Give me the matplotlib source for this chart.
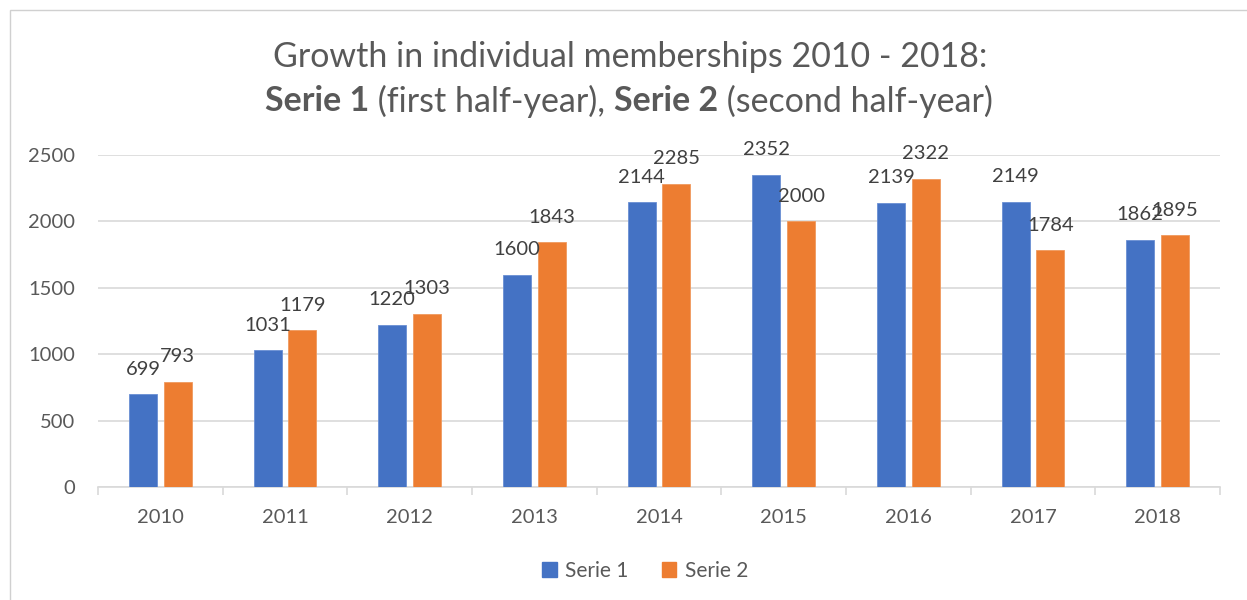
import matplotlib
matplotlib.use("Agg")
import matplotlib.pyplot as plt
import numpy as np
from matplotlib.patches import Rectangle, Patch

years = ["2010", "2011", "2012", "2013", "2014", "2015", "2016", "2017", "2018"]
serie1 = [699, 1031, 1220, 1600, 2144, 2352, 2139, 2149, 1862]
serie2 = [793, 1179, 1303, 1843, 2285, 2000, 2322, 1784, 1895]
series_names = ["Serie 1", "Serie 2"]

BLUE = "#4472C4"
ORANGE = "#ED7D31"
GRID = "#D9D9D9"
TXT = "#595959"

plt.rcParams['font.family'] = ['Lato', 'DejaVu Sans']

W, H = 1247, 600
fig = plt.figure(figsize=(W / 100, H / 100), dpi=100)

# chart frame (runs off the right and bottom edges)
fig.patches.append(Rectangle((10 / W, -0.1), 1.2, 1 - 10 / H + 0.1, transform=fig.transFigure,
                             fill=False, edgecolor="#D0D0D0", lw=1))

ax = fig.add_axes([98 / W, 1 - 487 / H, (1220 - 98) / W, (487 - 155) / H])

x = np.arange(len(years))
bw = 0.225
off = 0.14
b1 = ax.bar(x - off, serie1, bw, color=BLUE, edgecolor="#6A8FD3", lw=0.6, zorder=3)
b2 = ax.bar(x + off, serie2, bw, color=ORANGE, edgecolor="#F09A5E", lw=0.6, zorder=3)

for bars, vals in ((b1, serie1), (b2, serie2)):
    for b, v in zip(bars, vals):
        ax.annotate(str(v), (b.get_x() + b.get_width() / 2, v), xytext=(0, 18),
                    textcoords="offset points", ha="center", va="center",
                    fontsize=14.5, color="#404040", zorder=4)

ax.set_xlim(-0.5, len(years) - 0.5)
ax.set_ylim(0, 2500)
ax.set_yticks(range(0, 2501, 500))
ax.yaxis.grid(True, color=GRID, lw=1.2)
ax.set_axisbelow(True)
for s in ("top", "right", "left"):
    ax.spines[s].set_visible(False)
ax.spines["bottom"].set_color(GRID)
ax.spines["bottom"].set_linewidth(1.2)

ax.set_xticks(x)
ax.set_xticklabels(years)
ax.set_xticks(np.arange(-0.5, len(years)), minor=True)
ax.tick_params(axis="x", which="major", length=0, pad=16, labelsize=14.5, labelcolor=TXT)
ax.tick_params(axis="x", which="minor", length=6, color=GRID, width=1.2)
ax.tick_params(axis="y", length=0, pad=16.5, labelsize=14.5, labelcolor=TXT)

# title, line 1
fig.text(630 / W, 1 - 57 / H, "Growth in individual memberships 2010 - 2018:",
         ha="center", va="center", fontsize=24.5, color=TXT)

# title, line 2 with bold parts
parts = [("Serie 1", "bold"), (" (first half-year), ", "normal"),
         ("Serie 2", "bold"), (" (second half-year)", "normal")]
fig.canvas.draw()
r = fig.canvas.get_renderer()
texts = [fig.text(0, 1 - 101 / H, s, ha="left", va="center", fontsize=24.5,
                  fontweight=w, color=TXT) for s, w in parts]
widths = [t.get_window_extent(renderer=r).width for t in texts]
x0 = 629 - sum(widths) / 2
for t, wd in zip(texts, widths):
    t.set_x(x0 / W)
    x0 += wd

handles = [Patch(color=BLUE), Patch(color=ORANGE)]
fig.legend(handles, series_names, loc="center", bbox_to_anchor=(645 / W, 1 - 571 / H),
           ncol=2, frameon=False, fontsize=15, labelcolor=TXT,
           handlelength=0.7, handleheight=0.7, handletextpad=0.4, columnspacing=1.6)

fig.savefig("out.png", dpi=100)
